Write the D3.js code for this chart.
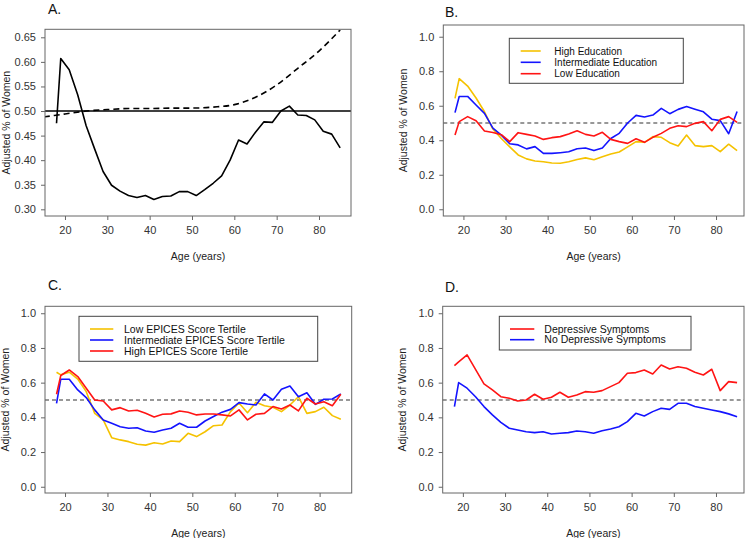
<!DOCTYPE html>
<html>
<head>
<meta charset="utf-8">
<script src="https://cdn.jsdelivr.net/npm/d3@7"></script>
<style>
  body { margin: 0; background: #fff; }
  svg text { font-family: "Liberation Sans", Arial, sans-serif; }
</style>
</head>
<body>
<div id="chart"></div>
<script>
// ages at which the curves were estimated
const ages = [18, 19, 21, 23, 25, 27, 29, 31, 33, 35, 37, 39, 41, 43, 45, 47, 49, 51,
  53, 55, 57, 59, 61, 63, 65, 67, 69, 71, 73, 75, 77, 79, 81, 83, 85];

// Panel A - observed proportion and smooth expected curve
const aObserved = [0.475, 0.607, 0.584, 0.533, 0.470, 0.423, 0.377, 0.349, 0.337, 0.328, 0.324, 0.328,
  0.320, 0.326, 0.327, 0.336, 0.336, 0.328, 0.340, 0.353, 0.368, 0.400, 0.441, 0.433, 0.457, 0.478,
  0.477, 0.500, 0.510, 0.492, 0.491, 0.482, 0.459, 0.453, 0.425];
const aExpAges = [15, 20, 25, 30, 35, 40, 45, 50, 55, 60, 65, 70, 75, 80, 85];
const aExpected = [0.488, 0.494, 0.500, 0.503, 0.505, 0.505, 0.506, 0.506, 0.508, 0.513, 0.528,
  0.553, 0.587, 0.622, 0.665];

// Panel B - education
const bHigh = [0.643, 0.757, 0.714, 0.645, 0.565, 0.465, 0.410, 0.362, 0.315, 0.292, 0.280, 0.275,
  0.268, 0.267, 0.275, 0.288, 0.298, 0.287, 0.305, 0.320, 0.332, 0.362, 0.392, 0.388, 0.421, 0.417,
  0.386, 0.367, 0.430, 0.369, 0.363, 0.369, 0.334, 0.377, 0.340];
const bInter = [0.560, 0.654, 0.654, 0.604, 0.556, 0.470, 0.430, 0.380, 0.373, 0.350, 0.363, 0.324,
  0.324, 0.328, 0.333, 0.351, 0.355, 0.340, 0.355, 0.410, 0.440, 0.500, 0.544, 0.535, 0.546, 0.585,
  0.554, 0.579, 0.596, 0.580, 0.565, 0.522, 0.514, 0.438, 0.567];
const bLow = [0.430, 0.508, 0.537, 0.513, 0.454, 0.445, 0.432, 0.392, 0.444, 0.434, 0.425, 0.405,
  0.415, 0.421, 0.436, 0.455, 0.434, 0.425, 0.446, 0.405, 0.392, 0.382, 0.409, 0.388, 0.417, 0.440,
  0.469, 0.484, 0.479, 0.498, 0.508, 0.455, 0.521, 0.537, 0.504];

// Panel C - EPICES score tertiles
const cLow = [0.660, 0.645, 0.660, 0.621, 0.548, 0.423, 0.385, 0.283, 0.270, 0.260, 0.245, 0.240,
  0.254, 0.246, 0.264, 0.260, 0.308, 0.289, 0.317, 0.352, 0.356, 0.433, 0.483, 0.427, 0.487, 0.467,
  0.458, 0.433, 0.471, 0.519, 0.423, 0.433, 0.458, 0.410, 0.389];
const cInter = [0.481, 0.620, 0.620, 0.558, 0.514, 0.443, 0.385, 0.366, 0.346, 0.337, 0.340, 0.321,
  0.314, 0.327, 0.337, 0.366, 0.343, 0.343, 0.379, 0.405, 0.430, 0.446, 0.485, 0.477, 0.471, 0.535,
  0.500, 0.562, 0.581, 0.519, 0.542, 0.475, 0.504, 0.506, 0.535];
const cHigh = [0.533, 0.641, 0.673, 0.635, 0.568, 0.500, 0.494, 0.443, 0.456, 0.437, 0.441, 0.423,
  0.402, 0.418, 0.420, 0.437, 0.429, 0.414, 0.419, 0.419, 0.414, 0.408, 0.443, 0.385, 0.418, 0.423,
  0.462, 0.448, 0.471, 0.437, 0.510, 0.477, 0.490, 0.467, 0.533];

// Panel D - depressive symptoms
const dDep = [0.698, 0.720, 0.760, 0.677, 0.593, 0.558, 0.519, 0.510, 0.494, 0.500, 0.533, 0.504,
  0.516, 0.545, 0.516, 0.529, 0.548, 0.545, 0.554, 0.577, 0.600, 0.654, 0.658, 0.673, 0.650, 0.702,
  0.679, 0.692, 0.683, 0.660, 0.644, 0.677, 0.554, 0.606, 0.600];
const dNoDep = [0.462, 0.600, 0.568, 0.519, 0.462, 0.414, 0.371, 0.337, 0.327, 0.317, 0.312, 0.317,
  0.304, 0.308, 0.312, 0.321, 0.317, 0.308, 0.323, 0.333, 0.346, 0.375, 0.423, 0.408, 0.433, 0.452,
  0.446, 0.481, 0.481, 0.462, 0.452, 0.442, 0.433, 0.420, 0.404];

// tick labels
const xTicks = [20, 30, 40, 50, 60, 70, 80];
const aTicks = [0.30, 0.35, 0.40, 0.45, 0.50, 0.55, 0.60, 0.65];
const pTicks = [0.0, 0.2, 0.4, 0.6, 0.8, 1.0];

const yellow = "#f5c200", blue = "#1414ff", red = "#ff1414";

const svg = d3.select("#chart").append("svg")
  .attr("width", 750).attr("height", 538);
svg.append("rect").attr("width", 750).attr("height", 538).attr("fill", "#fff");

// draws one panel: box, axes, titles, reference line, series and legend
function drawPanel(p) {
  const x = d3.scaleLinear().domain(p.xDomain).range([p.box[0], p.box[1]]);
  const y = d3.scaleLinear().domain(p.yDomain).range([p.box[3], p.box[2]]);
  const g = svg.append("g");

  const clipId = "clip" + p.label;
  g.append("clipPath").attr("id", clipId).append("rect")
    .attr("x", p.box[0]).attr("y", p.box[2])
    .attr("width", p.box[1] - p.box[0]).attr("height", p.box[3] - p.box[2]);

  // x axis
  const xa = g.append("g").attr("transform", "translate(0," + p.box[3] + ")")
    .call(d3.axisBottom(x).tickValues(xTicks).tickSize(4).tickPadding(6));
  // y axis
  const ya = g.append("g").attr("transform", "translate(" + p.box[0] + ",0)")
    .call(d3.axisLeft(y).tickValues(p.yTicks).tickFormat(d3.format(p.fmt)).tickSize(4).tickPadding(5));
  [xa, ya].forEach(a => {
    a.select(".domain").remove();
    a.selectAll("line").attr("stroke", "#666");
    a.selectAll("text").attr("fill", "#333").style("font-size", "11px");
  });

  // reference line at 0.5
  g.append("line")
    .attr("x1", p.box[0]).attr("x2", p.box[1])
    .attr("y1", y(0.5)).attr("y2", y(0.5))
    .attr("stroke", p.refSolid ? "#000" : "#777")
    .attr("stroke-width", p.refSolid ? 1.5 : 1.3)
    .attr("stroke-dasharray", p.refSolid ? null : "4,3");

  const line = d3.line().x(d => x(d[0])).y(d => y(d[1]));
  p.series.forEach(s => {
    const pts = (s.ages || ages).map((a, i) => [a, s.values[i]]);
    g.append("path")
      .datum(pts)
      .attr("clip-path", "url(#" + clipId + ")")
      .attr("fill", "none")
      .attr("stroke", s.color)
      .attr("stroke-width", 1.6)
      .attr("stroke-linejoin", "round")
      .attr("stroke-dasharray", s.dash || null)
      .attr("d", s.smooth ? line.curve(d3.curveMonotoneX)(pts) : line.curve(d3.curveLinear)(pts));
  });

  // plot frame
  g.append("rect")
    .attr("x", p.box[0]).attr("y", p.box[2])
    .attr("width", p.box[1] - p.box[0]).attr("height", p.box[3] - p.box[2])
    .attr("fill", "none").attr("stroke", "#666").attr("stroke-width", 1);

  // titles
  g.append("text").attr("x", p.labelPos[0]).attr("y", p.labelPos[1])
    .style("font-size", "14px").attr("fill", "#111").text(p.label + ".");
  g.append("text")
    .attr("x", (p.box[0] + p.box[1]) / 2).attr("y", p.xTitleY)
    .attr("text-anchor", "middle").style("font-size", "10.5px").attr("fill", "#222")
    .text("Age (years)");
  g.append("text")
    .attr("transform", "translate(" + p.yTitleX + "," + ((p.box[2] + p.box[3]) / 2) + ") rotate(-90)")
    .attr("text-anchor", "middle").style("font-size", "10.5px").attr("fill", "#222")
    .text("Adjusted % of Women");

  // legend
  if (p.legend) {
    const L = p.legend;
    g.append("rect")
      .attr("x", L.box[0]).attr("y", L.box[1])
      .attr("width", L.box[2] - L.box[0]).attr("height", L.box[3] - L.box[1])
      .attr("fill", "#fff").attr("stroke", "#444").attr("stroke-width", 1);
    L.items.forEach((it, i) => {
      const yy = L.rows[i];
      g.append("line")
        .attr("x1", L.line[0]).attr("x2", L.line[1])
        .attr("y1", yy).attr("y2", yy)
        .attr("stroke", it.color).attr("stroke-width", 1.6);
      g.append("text")
        .attr("x", L.textX).attr("y", yy).attr("dy", "0.35em")
        .style("font-size", L.fontSize).attr("fill", "#111")
        .text(it.name);
    });
  }
}

drawPanel({
  label: "A", labelPos: [48, 14],
  box: [45, 351, 29.3, 216],
  xDomain: [15.28, 87.56], yDomain: [0.2864, 0.6663],
  yTicks: aTicks, fmt: ".2f", refSolid: true,
  xTitleY: 260, yTitleX: 10,
  series: [
    { values: aObserved, color: "#000" },
    { ages: aExpAges, values: aExpected, color: "#000", dash: "6,4", smooth: true }
  ]
});

drawPanel({
  label: "B", labelPos: [445, 17],
  box: [443.3, 744, 25, 216],
  xDomain: [15.22, 86.64], yDomain: [-0.039, 1.068],
  yTicks: pTicks, fmt: ".1f",
  xTitleY: 260, yTitleX: 407,
  series: [
    { values: bHigh, color: yellow },
    { values: bInter, color: blue },
    { values: bLow, color: red }
  ],
  legend: {
    box: [509.3, 38.3, 683.3, 83.3], line: [520.7, 540.7], textX: 554.3,
    rows: [51, 62.3, 73.7], fontSize: "10px",
    items: [
      { name: "High Education", color: yellow },
      { name: "Intermediate Education", color: blue },
      { name: "Low Education", color: red }
    ]
  }
});

drawPanel({
  label: "C", labelPos: [48, 290],
  box: [45, 351.7, 306.3, 493],
  xDomain: [15.28, 87.56], yDomain: [-0.036, 1.04],
  yTicks: pTicks, fmt: ".1f",
  xTitleY: 537, yTitleX: 9,
  series: [
    { values: cLow, color: yellow },
    { values: cInter, color: blue },
    { values: cHigh, color: red }
  ],
  legend: {
    box: [79, 316.3, 317.7, 361.3], line: [90, 113.3], textX: 124,
    rows: [329, 340, 351], fontSize: "10.5px",
    items: [
      { name: "Low EPICES Score Tertile", color: yellow },
      { name: "Intermediate EPICES Score Tertile", color: blue },
      { name: "High EPICES Score Tertile", color: red }
    ]
  }
});

drawPanel({
  label: "D", labelPos: [445, 291.5],
  box: [442.7, 744, 306.3, 493],
  xDomain: [15.22, 86.64], yDomain: [-0.036, 1.04],
  yTicks: pTicks, fmt: ".1f",
  xTitleY: 537, yTitleX: 406,
  series: [
    { values: dDep, color: red },
    { values: dNoDep, color: blue }
  ],
  legend: {
    box: [499.3, 316.3, 691, 350], line: [510, 534.3], textX: 544.3,
    rows: [329, 339.7], fontSize: "10.5px",
    items: [
      { name: "Depressive Symptoms", color: red },
      { name: "No Depressive Symptoms", color: blue }
    ]
  }
});
</script>
</body>
</html>
